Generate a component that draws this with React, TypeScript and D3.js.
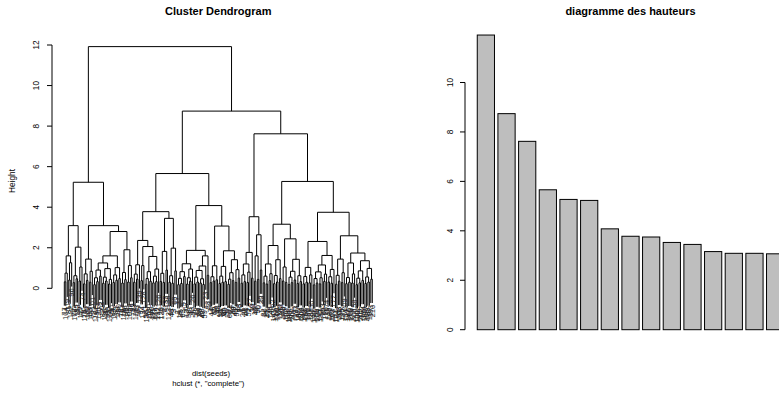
import React from "react";
import * as d3 from "d3";

// Hierarchical clustering of dist(seeds), complete linkage.
// Each merge is written "(left,right)height"; leaves are the seed row numbers.

// First top-level cluster
const groupA1 = "(((77,104)0.32,119)0.75,((81,122)0.41,96)1.26)1.6";
const groupA2 = "(((72,108)0.28,(85,113)0.47)0.62,((99,117)0.36,74)1.05)2.03";
const groupA3 = "(((78,115)0.22,(89,123)0.39)0.71,((93,106)0.3,101)0.84)1.44";
const groupA4 =
  "(((((73,110)0.18,(94,120)0.33)0.52,(79,103)0.6)0.9,(((82,116)0.25,(97,109)0.36)0.55,((75,124)0.21,90)0.44)0.97)1.25," +
  "(((84,112)0.29,(91,107)0.4)0.66,(80,121)0.48)1.02)1.6";
const groupA5 = "(((76,118)0.26,(86,100)0.43)0.78,((87,105)0.31,(88,95)0.52)1.12)1.9";

// Second top-level cluster
const groupB1 = "(((71,125)0.3,(83,131)0.45)0.7,139)1.16";
const groupB2 = "((92,134)0.38,128)1.12";
const groupB3 = "((((98,136)0.2,130)0.48,(102,140)0.35)0.82,(((111,127)0.27,(114,137)0.33)0.6,126)0.95)1.57";
const groupB4 = "(((129,135)0.34,(1,8)0.29)0.74,(132,138)0.9)1.82";
const groupB5 = "(((133,11)0.3,(46,3)0.25)0.62,(60,17)0.86)1.98";
const groupB6 = "((((2,19)0.18,(35,63)0.24)0.49,(5,67)0.58)0.82,(((12,58)0.21,(31,43)0.35)0.52,26)0.95)1.21";
const groupB7 = "(((((6,50)0.22,(13,64)0.31)0.55,((36,68)0.26,(47,59)0.19)0.47)0.88,23)1.1,(28,51)0.64)1.6";
const groupB8 = "(((7,44)0.28,(16,62)0.36)0.57,(32,49)0.42)1.11";
const groupB9 = "(((18,53)0.24,(37,65)0.3)0.6,(40,57)0.33)1.08";
const groupB10 = "((((15,66)0.2,34)0.45,(24,69)0.38)0.77,((45,54)0.29,(48,55)0.5)0.92)1.41";

// Third top-level cluster
const groupC1 = "((((4,21)0.25,(38,61)0.33)0.66,((9,52)0.29,27)0.8)1.2,(10,39)0.5)1.77";
const groupC2 = "((14,42)0.35,(30,70)0.44)1.6";
const groupC3 = "(20,33)0.9";
const groupC4 = "(((22,56)0.27,(25,41)0.21)0.6,((29,145)0.38,162)0.72)1.2";
const groupC5 = "(((141,157)0.23,(168,190)0.31)0.63,(149,203)0.48)1.41";
const groupC6 = "((143,176)0.36,(152,199)0.29)1.05";
const groupC7 = "((((144,181)0.19,(160,207)0.28)0.55,(171,193)0.41)0.84,((147,185)0.24,(164,201)0.33)0.62)1.43";
const groupC8 = "(((142,173)0.22,(155,196)0.3)0.58,((167,188)0.27,150)0.66)1.03";
const groupC9 =
  "(((((146,179)0.17,(159,204)0.26)0.48,((170,192)0.22,153)0.52)0.81,((165,186)0.34,174)0.7)1.15," +
  "(((148,182)0.31,(161,198)0.25)0.57,177)0.93)1.62";
const groupC10 = "(((151,184)0.2,(163,205)0.35)0.64,((175,195)0.28,209)0.77)1.44";
const groupC11 = "(((154,187)0.23,(166,200)0.3)0.53,((178,206)0.26,158)0.71)1.25";
const groupC12 = "((((156,189)0.18,(169,202)0.27)0.5,(172,194)0.39)0.86,(((180,208)0.24,(183,197)0.31)0.56,(191,210)0.45)0.98)1.36";

// Upper merges
const clusterA = `((${groupA1},${groupA2})3.09,(${groupA3},(${groupA4},${groupA5})2.8)3.09)5.23`;
const clusterB =
  `(((${groupB1},(${groupB2},${groupB3})2.06)2.36,(${groupB4},${groupB5})3.45)3.78,` +
  `((${groupB6},${groupB7})1.87,(${groupB8},(${groupB9},${groupB10})1.85)3.07)4.08)5.66`;
const clusterC =
  `((${groupC1},(${groupC2},${groupC3})2.64)3.53,` +
  `(((${groupC4},${groupC5})2.11,(${groupC6},${groupC7})2.44)3.16,` +
  `((${groupC8},${groupC9})2.31,(${groupC10},(${groupC11},${groupC12})1.74)2.59)3.75)5.27)7.62`;
const treeText = `(${clusterA},(${clusterB},${clusterC})8.74)11.92`;

const heightTicks = [0, 2, 4, 6, 8, 10, 12];
const barTicks = [0, 2, 4, 6, 8, 10];
const barCount = 15;

const FONT = "'Liberation Sans', Arial, Helvetica, sans-serif";

type TreeNode = {
  h: number;
  label?: number;
  children?: [TreeNode, TreeNode];
  x?: number;
};

function parseTree(src: string): TreeNode {
  const s = src.replace(/\s+/g, "");
  let i = 0;
  const readNum = (): number => {
    const m = /^\d+(\.\d+)?/.exec(s.slice(i));
    if (!m) throw new Error("bad tree at " + i);
    i += m[0].length;
    return +m[0];
  };
  const readNode = (): TreeNode => {
    if (s[i] === "(") {
      i++;
      const a = readNode();
      i++; // ,
      const b = readNode();
      i++; // )
      const h = readNum();
      return { h, children: [a, b] };
    }
    return { h: 0, label: readNum() };
  };
  return readNode();
}

export default function App() {
  const root = parseTree(treeText);

  // leaf order and node positions (midpoint of the two children)
  const leaves: TreeNode[] = [];
  const merges: TreeNode[] = [];
  const place = (n: TreeNode): number => {
    if (!n.children) {
      leaves.push(n);
      n.x = leaves.length;
      return n.x;
    }
    const xa = place(n.children[0]);
    const xb = place(n.children[1]);
    merges.push(n);
    n.x = (xa + xb) / 2;
    return n.x;
  };
  place(root);

  const nLeaves = leaves.length;
  const heights = merges.map((m) => m.h);
  const hMax = d3.max(heights) as number;
  const hMin = d3.min(heights) as number;
  const hang = 0.1 * (hMax - hMin);

  // left panel scales
  const pad = 0.04 * (nLeaves - 1);
  const xD = d3.scaleLinear().domain([1 - pad, nLeaves + pad]).range([52, 384.6]);
  const yD = d3.scaleLinear().domain([0, 12]).range([288.3, 45]);

  const paths: string[] = [];
  const leafEnds: { x: number; y: number; label: number }[] = [];
  merges.forEach((m) => {
    const [a, b] = m.children!;
    const ya = a.children ? a.h : m.h - hang;
    const yb = b.children ? b.h : m.h - hang;
    paths.push(`M${xD(a.x!)},${yD(ya)}V${yD(m.h)}H${xD(b.x!)}V${yD(yb)}`);
    if (!a.children) leafEnds.push({ x: xD(a.x!), y: yD(ya), label: a.label! });
    if (!b.children) leafEnds.push({ x: xD(b.x!), y: yD(yb), label: b.label! });
  });

  // right panel: largest merge heights
  const topHeights = [...heights].sort((p, q) => q - p).slice(0, barCount);
  const span = 1.2 * barCount - 0.2;
  const xB = d3
    .scaleLinear()
    .domain([0.2 - 0.04 * span, 1.2 * barCount + 0.04 * span])
    .range([465, 796]);
  const yB = d3.scaleLinear().domain([0, 10]).range([329.7, 82.5]);

  return (
    <svg
      width={779}
      height={394}
      style={{ position: "absolute", left: 0, top: 0, background: "#fff" }}
      fontFamily={FONT}
    >
      <rect width={779} height={394} fill="#fff" />

      {/* dendrogram */}
      <text x={218.3} y={14.8} textAnchor="middle" fontSize={11} fontWeight="bold">
        Cluster Dendrogram
      </text>
      <g fill="none" stroke="#000" strokeWidth={1}>
        {paths.map((d, i) => (
          <path key={i} d={d} />
        ))}
      </g>
      <g fontSize={7.5} fill="#222">
        {leafEnds.map((l, i) => (
          <text
            key={i}
            transform={`translate(${l.x},${l.y + 1.8}) rotate(-90)`}
            textAnchor="end"
            dominantBaseline="central"
          >
            {l.label}
          </text>
        ))}
      </g>
      <g stroke="#000" strokeWidth={1}>
        <line x1={52} x2={52} y1={yD(0)} y2={yD(12)} />
        {heightTicks.map((t) => (
          <line key={t} x1={47} x2={52} y1={yD(t)} y2={yD(t)} />
        ))}
      </g>
      <g fontSize={8.3}>
        {heightTicks.map((t) => (
          <text key={t} transform={`translate(38.7,${yD(t)}) rotate(-90)`} textAnchor="middle">
            {t}
          </text>
        ))}
      </g>
      <text transform="translate(15,181) rotate(-90)" textAnchor="middle" fontSize={8.3}>
        Height
      </text>
      <text x={211} y={375.5} textAnchor="middle" fontSize={7.8}>
        dist(seeds)
      </text>
      <text x={208.3} y={386.3} textAnchor="middle" fontSize={7.8}>
        hclust (*, "complete")
      </text>

      {/* bar chart of merge heights */}
      <text x={630.5} y={14.8} textAnchor="middle" fontSize={11} fontWeight="bold">
        diagramme des hauteurs
      </text>
      <g fill="#bebebe" stroke="#000" strokeWidth={1}>
        {topHeights.map((h, i) => (
          <rect
            key={i}
            x={xB(0.2 + 1.2 * i)}
            y={yB(h)}
            width={xB(1.2 + 1.2 * i) - xB(0.2 + 1.2 * i)}
            height={yB(0) - yB(h)}
          />
        ))}
      </g>
      <g stroke="#000" strokeWidth={1}>
        <line x1={465} x2={465} y1={yB(0)} y2={yB(10)} />
        {barTicks.map((t) => (
          <line key={t} x1={460} x2={465} y1={yB(t)} y2={yB(t)} />
        ))}
      </g>
      <g fontSize={8.3}>
        {barTicks.map((t) => (
          <text key={t} transform={`translate(452.5,${yB(t)}) rotate(-90)`} textAnchor="middle">
            {t}
          </text>
        ))}
      </g>
    </svg>
  );
}
